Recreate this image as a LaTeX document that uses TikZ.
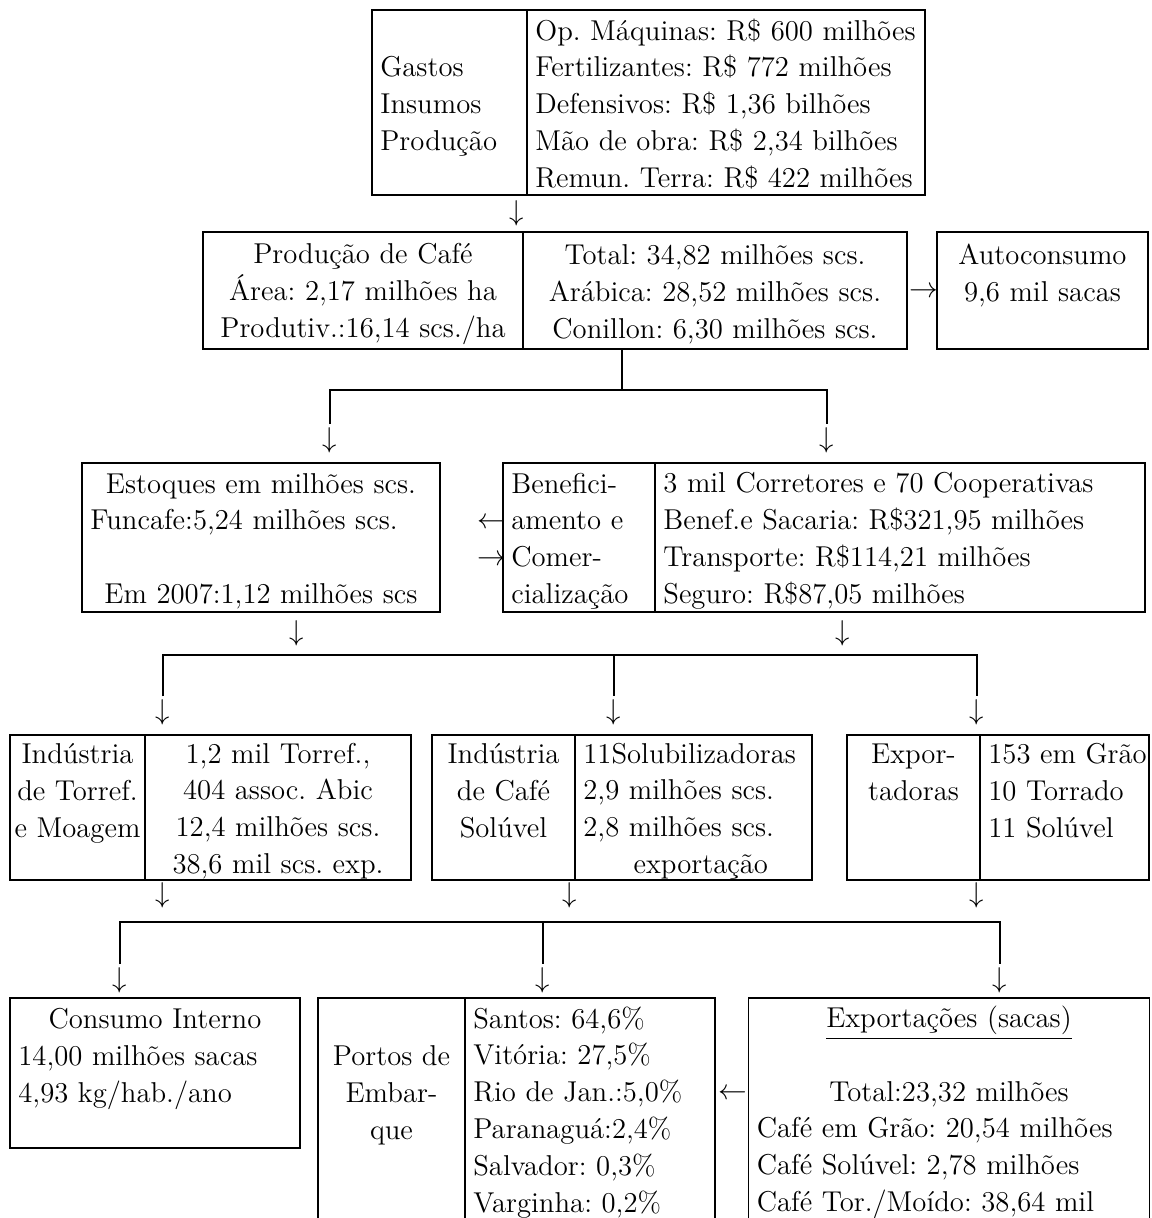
\documentclass[tikz,border=0pt]{standalone}
\usepackage{amsmath}
\usepackage{amssymb}
\usepackage{tikz}
\usepackage{xcolor}
\usetikzlibrary{positioning}

\newdimen\pu
\pu=0.418pt
\newcommand{\ctr}[1]{\hspace*{\fill}#1\hspace*{\fill}\mbox{}}
\newcommand{\cstrut}{\rule[-2pt]{0pt}{13.4pt}}

\tikzset{
    cell/.style={draw=black, rectangle, line width=0.8pt, inner xsep=-10pt, inner ysep=0pt,
        font=\fontsize{12}{15.4}\selectfont\frenchspacing, execute at end node=\cstrut},
    lcell/.style={cell, align=left,
        execute at begin node={\leftskip=13.5pt\rightskip=13.5pt plus 1fil minus 13.5pt\cstrut}},
    ccell/.style={cell, align=center, execute at begin node=\cstrut},
    dims/.code 2 args={%
        \pgfmathsetlengthmacro\cellw{#1*\pu}%
        \pgfmathsetlengthmacro\celltw{#1*\pu+20pt}%
        \pgfmathsetlengthmacro\cellh{#2*\pu}%
        \pgfkeysalso{minimum width=\cellw, minimum height=\cellh, text width=\celltw}},
    glyph/.style={inner sep=1pt, font=\fontsize{12}{15.4}\selectfont},
    link/.style={line width=0.8pt}
}

\begin{document}
\begin{tikzpicture}[x=0.418pt, y=-0.418pt]
            \useasboundingbox (0, 0) rectangle (1151, 1218);
            \clip (0, 0) rectangle (1151, 1218);

            \node[lcell, dims={155}{185}] (gastosL) at (449.5, 102.5) {~\\Gastos\\Insumos\\Produção\\~};
            \node[lcell, dims={398}{185}] (gastosR) at (726, 102.5) {Op. Máquinas: R\$ 600 milhões\\Fertilizantes: R\$ 772 milhões\\Defensivos: R\$ 1,36 bilhões\\Mão de obra: R\$ 2,34 bilhões\\Remun. Terra: R\$ 422 milhões};

            \node[ccell, dims={320}{117}] (prodL) at (363, 290.5) {Produção de Café\\Área: 2,17 milhões ha\\Produtiv.:16,14 scs./ha};
            \node[ccell, dims={384}{117}] (prodR) at (715, 290.5) {Total: 34,82 milhões scs.\\Arábica: 28,52 milhões scs.\\Conillon: 6,30 milhões scs.};
            \node[ccell, dims={211}{117}] (auto) at (1042.5, 290.5) {Autoconsumo\\9,6 mil sacas\\~};

            \node[lcell, dims={358}{149}] (stock) at (261, 537.5) {\ctr{Estoques em milhões scs.}\\Funcafe:5,24 milhões scs.\\~\\\ctr{Em 2007:1,12 milhões scs}};
            \node[lcell, dims={152}{149}] (benL) at (579, 537.5) {Benefici-\\amento e\\Comer-\\cialização};
            \node[lcell, dims={490}{149}] (benR) at (900, 537.5) {3 mil Corretores e 70 Cooperativas\\Benef.e Sacaria: R\$321,95 milhões\\Transporte: R\$114,21 milhões\\Seguro: R\$87,05 milhões};

            \node[ccell, dims={135}{145}] (torL) at (77.5, 807.5) {Indústria\\de Torref.\\e Moagem\\~};
            \node[ccell, dims={266}{145}] (torR) at (278, 807.5) {1,2 mil Torref.,\\404 assoc. Abic\\12,4 milhões scs.\\38,6 mil scs. exp.};
            \node[ccell, dims={143}{145}] (solL) at (503.5, 807.5) {Indústria\\de Café\\Solúvel\\~};
            \node[lcell, dims={237}{145}] (solR) at (693.5, 807.5) {11Solubilizadoras\\2,9 milhões scs.\\2,8 milhões scs.\\\hspace*{21pt}exportação};
            \node[ccell, dims={133}{145}] (expL) at (913.5, 807.5) {Expor-\\tadoras\\~\\~};
            \node[lcell, dims={169}{145}] (expR) at (1064.5, 807.5) {153 em Grão\\10 Torrado\\11 Solúvel\\~};

            \node[lcell, dims={290}{150}] (cons) at (155, 1073) {\ctr{Consumo Interno}\\14,00 milhões sacas\\4,93 kg/hab./ano\\~};
            \node[ccell, dims={147}{223}] (portL) at (391.5, 1109.5) {~\\Portos de\\Embar-\\que\\~\\~};
            \node[lcell, dims={250}{223}] (portR) at (590, 1109.5) {Santos: 64,6\%\\Vitória: 27,5\%\\Rio de Jan.:5,0\%\\Paranaguá:2,4\%\\Salvador: 0,3\%\\Varginha: 0,2\%};
            \node[lcell, dims={401}{223}] (exps) at (949, 1109.5) {\ctr{\underline{Exportações (sacas)}}\\~\\\ctr{Total:23,32 milhões}\\Café em Grão: 20,54 milhões\\Café Solúvel: 2,78 milhões\\Café Tor./Moído: 38,64 mil};

            \node[glyph] (d1) at (517, 213) {$\downarrow$};
            \node[glyph] (r1) at (924, 292) {$\rightarrow$};
            \node[glyph] (d2) at (330, 440) {$\downarrow$};
            \node[glyph] (d3) at (827, 440) {$\downarrow$};
            \node[glyph] (l1) at (492, 523) {$\leftarrow$};
            \node[glyph] (r2) at (492, 560) {$\rightarrow$};
            \node[glyph] (d4) at (297, 633) {$\downarrow$};
            \node[glyph] (d5) at (843, 633) {$\downarrow$};
            \node[glyph] (d6) at (163, 712) {$\downarrow$};
            \node[glyph] (d7) at (614, 712) {$\downarrow$};
            \node[glyph] (d8) at (977, 712) {$\downarrow$};
            \node[glyph] (d9) at (163, 895) {$\downarrow$};
            \node[glyph] (d10) at (570, 895) {$\downarrow$};
            \node[glyph] (d11) at (977, 895) {$\downarrow$};
            \node[glyph] (d12) at (120, 980) {$\downarrow$};
            \node[glyph] (d13) at (543, 980) {$\downarrow$};
            \node[glyph] (d14) at (1000, 980) {$\downarrow$};
            \node[glyph] (l2) at (733, 1094) {$\leftarrow$};

            \coordinate (j1) at (622, 390);
            \coordinate (j2) at (614, 655);
            \coordinate (j3) at (543, 922);

            \draw[link] (j1 |- prodR.south) -- (j1);
            \draw[link] (d2.north) |- (j1) -| (d3.north);
            \draw[link] (d6.north) |- (j2) -| (d8.north);
            \draw[link] (j2) -- (d7.north);
            \draw[link] (d12.north) |- (j3) -| (d14.north);
            \draw[link] (j3) -- (d13.north);
        \end{tikzpicture}
\end{document}
